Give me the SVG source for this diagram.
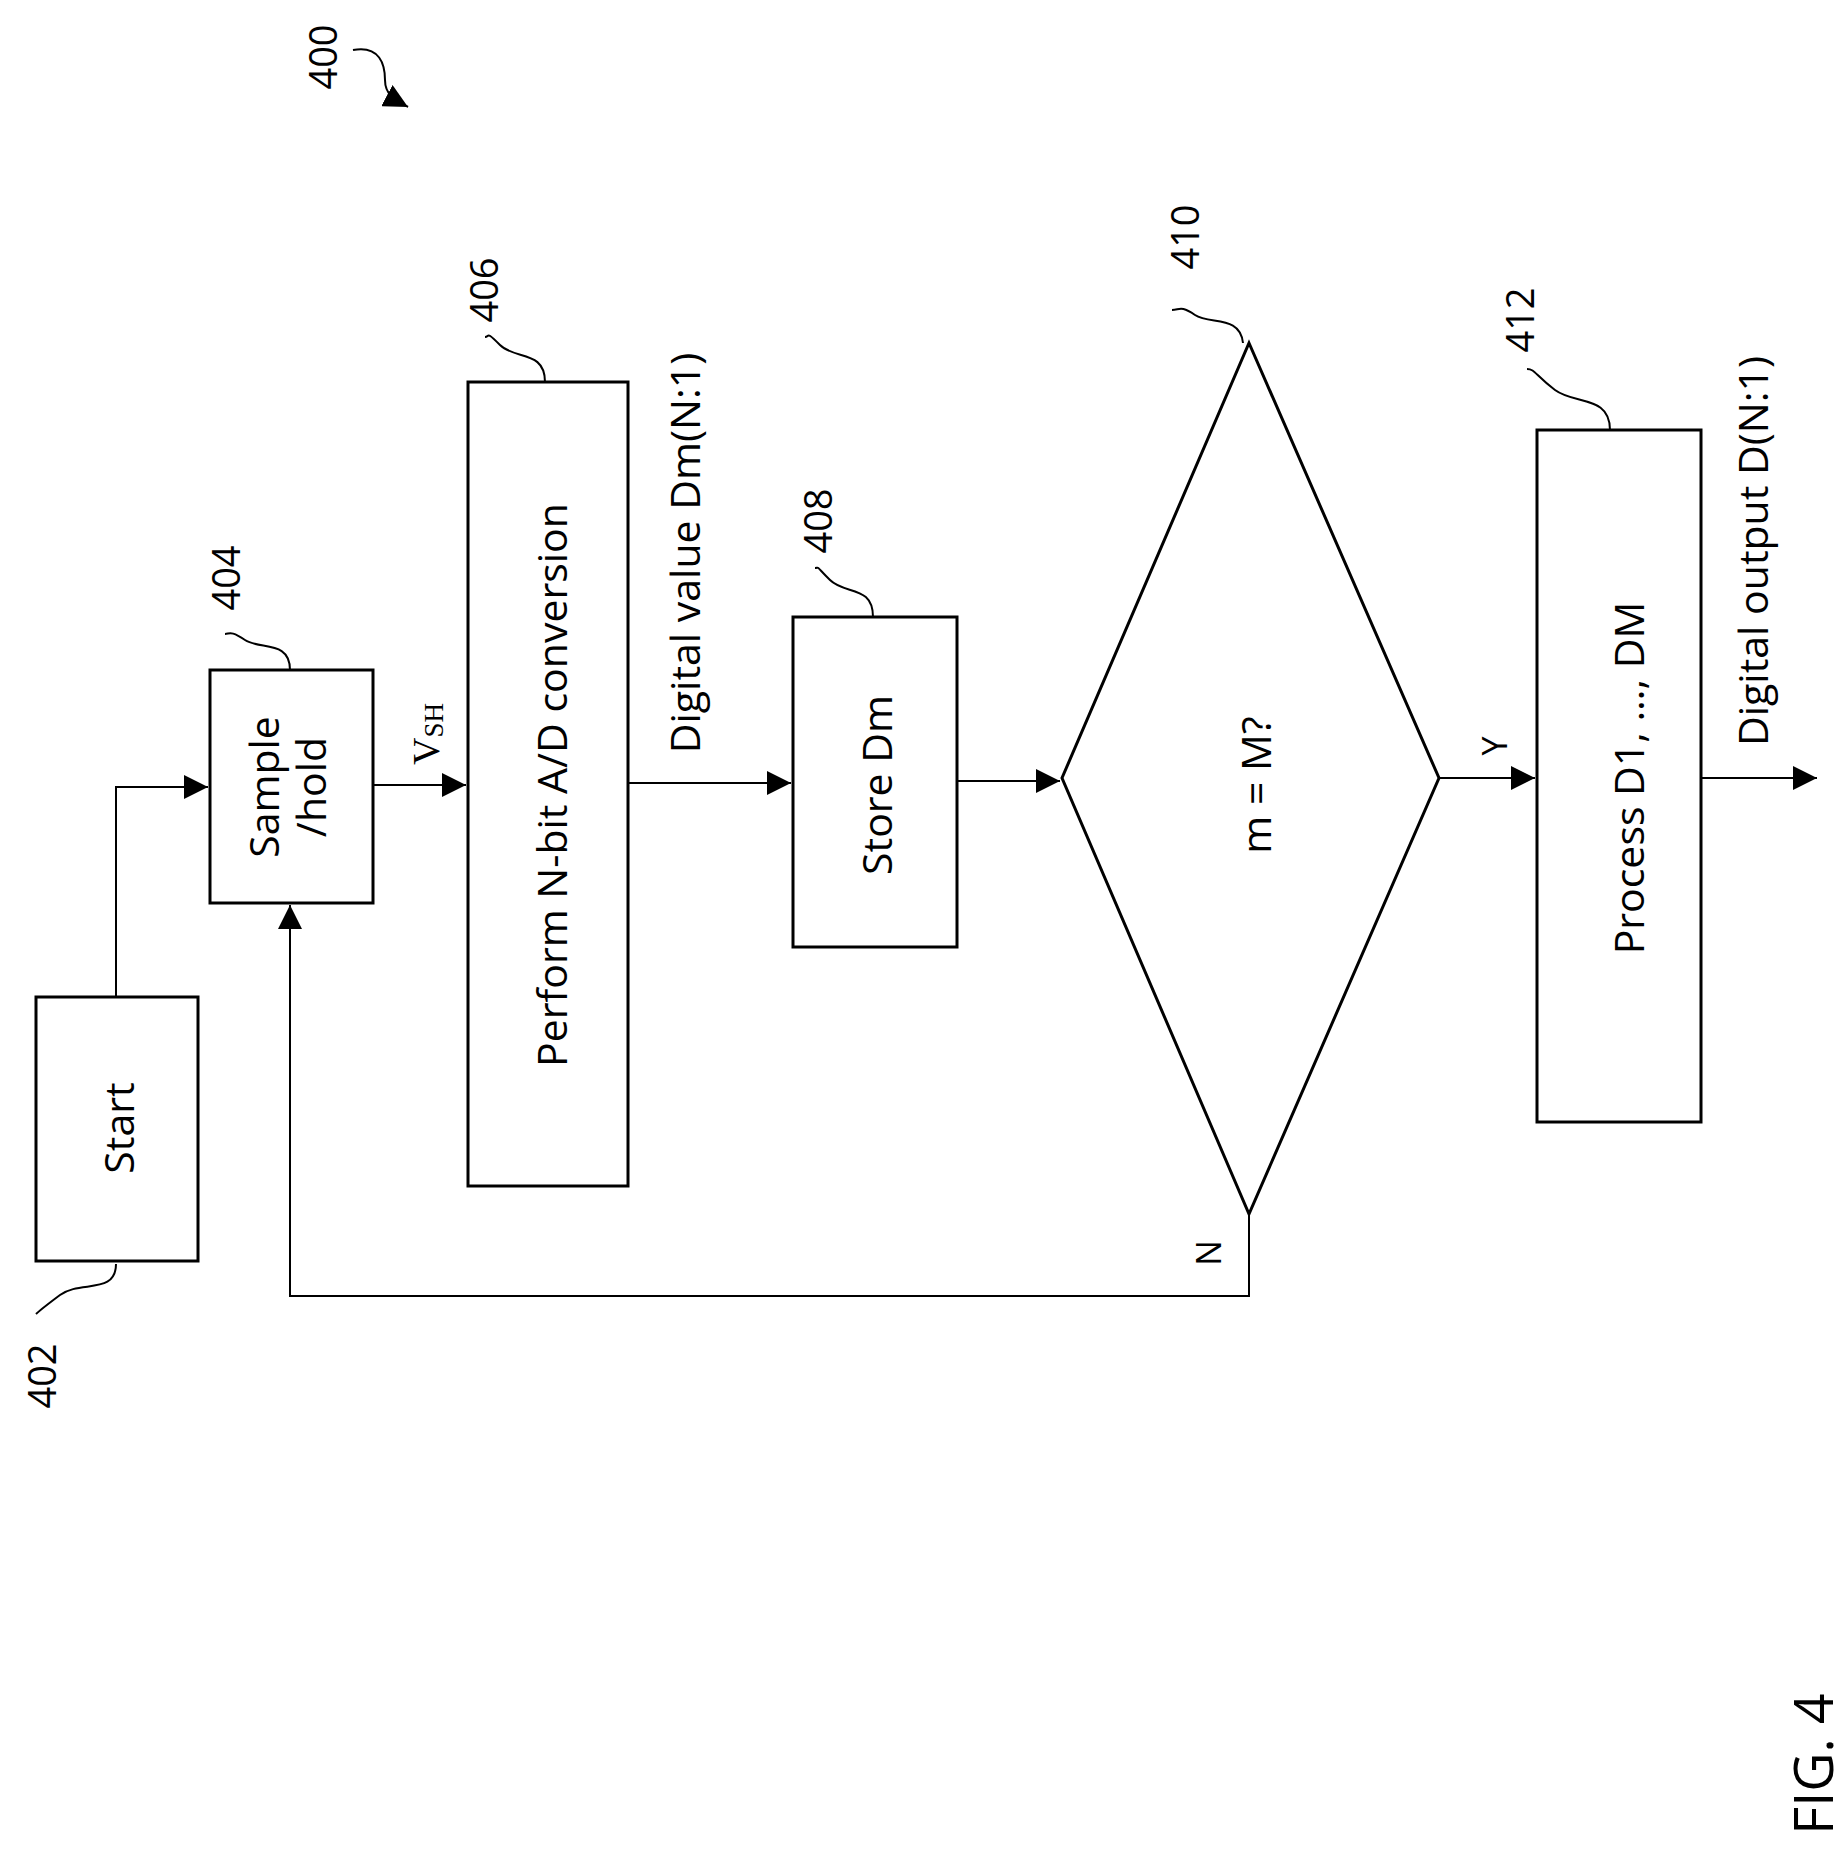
<svg xmlns="http://www.w3.org/2000/svg" width="1847" height="1859" viewBox="0 0 1847 1859">
<style>
.b{fill:#fff;stroke:#000;stroke-width:3}
.l{fill:none;stroke:#000;stroke-width:2}
.t{font-family:"Open Sans","Liberation Sans",sans-serif;font-size:41px;text-anchor:middle;dominant-baseline:central;fill:#000}
.r{font-family:"Open Sans","Liberation Sans",sans-serif;font-size:38px;text-anchor:middle;dominant-baseline:central;fill:#000}
</style>
<defs><marker id="a2" viewBox="0 0 10 10" refX="10" refY="5" markerWidth="24" markerHeight="24" markerUnits="userSpaceOnUse" orient="auto"><path d="M0,0L10,5L0,10z"/></marker></defs>
<rect width="1847" height="1859" fill="#fff"/>
<g id="connectors">
<g class="l">
<path d="M116,997V787H208" marker-end="url(#a2)"/>
<path d="M373,785H466" marker-end="url(#a2)"/>
<path d="M628,783H791" marker-end="url(#a2)"/>
<path d="M957,781H1060" marker-end="url(#a2)"/>
<path d="M1439,778H1535" marker-end="url(#a2)"/>
<path d="M1701,778H1817" marker-end="url(#a2)"/>
<path d="M1249,1214V1296H290V905" marker-end="url(#a2)"/>
</g>
<text class="t" style="font-size:34px" transform="rotate(-90 1494 746)" x="1494" y="746">Y</text>
<text class="t" style="font-size:34px" transform="rotate(-90 1208 1253)" x="1208" y="1253">N</text>
<text transform="rotate(-90 426 734)" x="426" y="734" font-family="Liberation Serif,serif" font-size="38" text-anchor="middle" dominant-baseline="central">V<tspan font-size="27" dy="8">SH</tspan></text>
<text class="t" transform="rotate(-90 684 553)" x="684" y="553">Digital value Dm(N:1)</text>
<text class="t" transform="rotate(-90 1752 551)" x="1752" y="551">Digital output D(N:1)</text>
</g>
<g id="n400"><path class="l" d="M353,50C380,45 385,65 385,80S395,100 408,107" marker-end="url(#a2)"/><text class="r" transform="rotate(-90 322 57)" x="322" y="57">400</text></g>
<g id="n402"><rect class="b" x="36" y="997" width="162" height="264"/><text class="t" transform="rotate(-90 118 1128)" x="118" y="1128">Start</text><path class="l" d="M116,1264C116,1295 80,1280 60,1295S40,1310 36,1314"/><text class="r" transform="rotate(-90 41 1376)" x="41" y="1376">402</text></g>
<g id="n404"><rect class="b" x="210" y="670" width="163" height="233"/><text class="t" transform="rotate(-90 263 787)" x="263" y="787">Sample</text><text class="t" transform="rotate(-90 310 787)" x="310" y="787">/hold</text><path class="l" d="M290,670C290,640 260,650 245,640S230,634 225,634"/><text class="r" transform="rotate(-90 225 578)" x="225" y="578">404</text></g>
<g id="n406"><rect class="b" x="468" y="382" width="160" height="804"/><text class="t" transform="rotate(-90 551 785)" x="551" y="785">Perform N-bit A/D conversion</text><path class="l" d="M545,382C545,350 515,360 500,345S490,337 485,337"/><text class="r" transform="rotate(-90 483 290)" x="483" y="290">406</text></g>
<g id="n408"><rect class="b" x="793" y="617" width="164" height="330"/><text class="t" transform="rotate(-90 876 785)" x="876" y="785">Store Dm</text><path class="l" d="M873,617C873,585 845,595 830,580S820,568 815,568"/><text class="r" transform="rotate(-90 817 521)" x="817" y="521">408</text></g>
<g id="n410"><path class="b" d="M1249,343L1439,778L1249,1214L1062,778Z"/><text class="t" transform="rotate(-90 1255 785)" x="1255" y="785">m = M?</text><path class="l" d="M1243,343C1240,315 1210,325 1195,315S1180,310 1172,310"/><text class="r" transform="rotate(-90 1184 237)" x="1184" y="237">410</text></g>
<g id="n412"><rect class="b" x="1537" y="430" width="164" height="692"/><text class="t" transform="rotate(-90 1628 778)" x="1628" y="778">Process D1, …, DM</text><path class="l" d="M1610,430C1610,395 1575,405 1555,390S1535,369 1527,369"/><text class="r" transform="rotate(-90 1519 320)" x="1519" y="320">412</text></g>
<text transform="rotate(-90 1812 1764)" x="1812" y="1764" font-family="Open Sans,Liberation Sans,sans-serif" font-size="54" text-anchor="middle" dominant-baseline="central">FIG. 4</text>
</svg>
